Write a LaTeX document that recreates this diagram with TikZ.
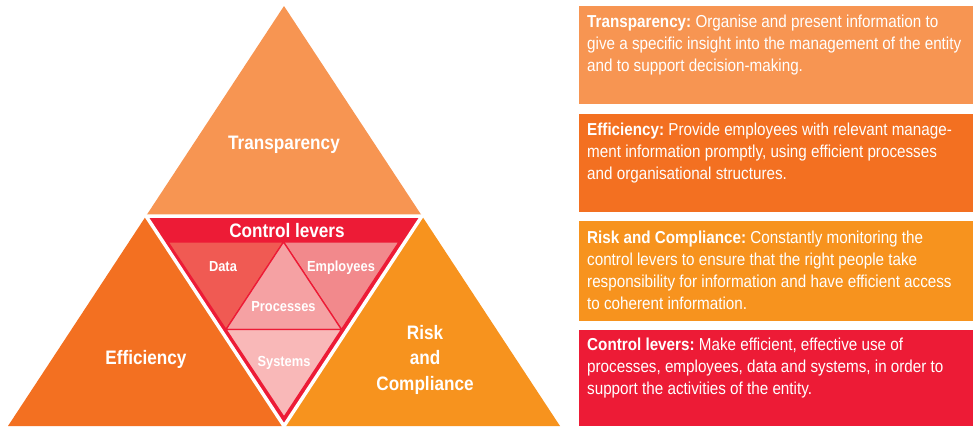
\documentclass[tikz,border=0pt]{standalone}
\usepackage{fontspec}
\setmainfont{Liberation Sans}[FakeStretch=0.88]
\frenchspacing
\definecolor{transpC}{HTML}{F79552}
\definecolor{efficC}{HTML}{F37021}
\definecolor{riskC}{HTML}{F7931E}
\definecolor{ctrlC}{HTML}{ED1B36}
\definecolor{dataC}{HTML}{F05A53}
\definecolor{emplC}{HTML}{F2898C}
\definecolor{procC}{HTML}{F5A1A3}
\definecolor{systC}{HTML}{F9B8B8}
\begin{document}
\begin{tikzpicture}[x=1pt,y=-1pt,
  biglabel/.style={text=white,inner sep=0pt,anchor=base,
    font=\fontsize{19.5}{25.5}\selectfont\bfseries},
  smalllabel/.style={text=white,inner sep=0pt,anchor=base,
    font=\fontsize{14.6}{18}\selectfont\bfseries},
  boxtext/.style={text=white,inner sep=0pt,anchor=base west,
    font=\fontsize{17.3}{22.3}\selectfont},
  sep/.style={draw=ctrlC,line width=1.3pt,line join=round}]
\useasboundingbox (0,0) rectangle (977,426);

% outer pyramid corners and edge midpoints
\coordinate (A)  at (284,6);
\coordinate (L)  at (8,426);
\coordinate (R)  at (560,426);
\coordinate (ML) at (146,216);
\coordinate (MR) at (422,216);
\coordinate (MB) at (284,426);

% the three corner triangles
\fill[transpC] (A) -- (ML) -- (MR) -- cycle;
\fill[efficC] (ML) -- (L) -- (MB) -- cycle;
\fill[riskC] (MR) -- (MB) -- (R) -- cycle;

% central inverted triangle with white outline
\filldraw[fill=ctrlC,draw=white,line width=3.5pt] (ML) -- (MR) -- (MB) -- cycle;

% inner subdivision
\coordinate (IL) at (168,242);
\coordinate (IR) at (399,242);
\coordinate (IT) at (283.5,242);
\coordinate (IML) at (226,329.5);
\coordinate (IMR) at (341.5,329.5);
\coordinate (IB) at (284,417);
\filldraw[sep,fill=dataC] (IL) -- (IT) -- (IML) -- cycle;
\filldraw[sep,fill=emplC] (IT) -- (IR) -- (IMR) -- cycle;
\filldraw[sep,fill=procC] (IT) -- (IMR) -- (IML) -- cycle;
\filldraw[sep,fill=systC] (IML) -- (IMR) -- (IB) -- cycle;

% pyramid labels
\node[biglabel] (tTransp) at (284,149.3) {Transparency};
\node[biglabel] (tCtrl) at (287,237) {Control levers};
\node[biglabel] (tEffic) at (146,364) {Efficiency};
\node[biglabel] (tRisk) at (425,339)
  {\parbox[t]{130pt}{\centering Risk\\and\\Compliance}};
\node[smalllabel] (tData) at (223,271) {Data};
\node[smalllabel] (tEmpl) at (341,271) {Employees};
\node[smalllabel] (tProc) at (283.5,311) {Processes};
\node[smalllabel] (tSyst) at (284,366) {Systems};

% description boxes
\fill[transpC] (579,6) rectangle (973,104);
\fill[efficC] (579,114) rectangle (973,212);
\fill[riskC] (579,221) rectangle (973,321);
\fill[ctrlC] (579,330) rectangle (973,426);

\node[boxtext] (dTransp) at (587,27) {\parbox[t]{380pt}{\raggedright
  \textbf{Transparency:} Organise and present information to\\
  give a specific insight into the management of the entity\\
  and to support decision-making.}};
\node[boxtext] (dEffic) at (587,135) {\parbox[t]{380pt}{\raggedright
  \textbf{Efficiency:} Provide employees with relevant manage-\\
  ment information promptly, using efficient processes\\
  and organisational structures.}};
\node[boxtext] (dRisk) at (587,243) {\parbox[t]{380pt}{\raggedright
  \textbf{Risk and Compliance:} Constantly monitoring the\\
  control levers to ensure that the right people take\\
  responsibility for information and have efficient access\\
  to coherent information.}};
\node[boxtext] (dCtrl) at (587,350) {\parbox[t]{380pt}{\raggedright
  \textbf{Control levers:} Make efficient, effective use of\\
  processes, employees, data and systems, in order to\\
  support the activities of the entity.}};
\end{tikzpicture}
\end{document}
